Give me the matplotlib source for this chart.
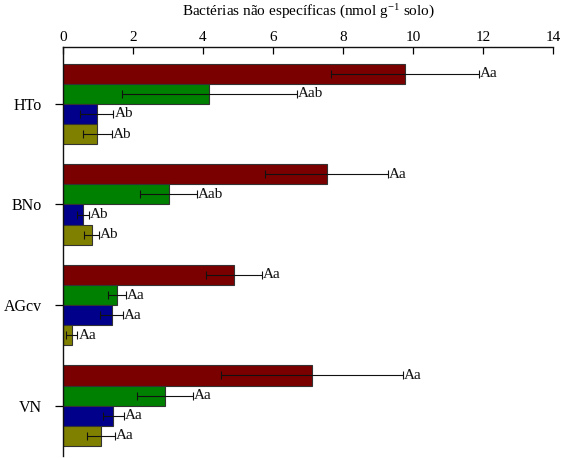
import matplotlib
matplotlib.use("Agg")
import matplotlib.pyplot as plt
import numpy as np

plt.rcParams["font.family"] = ["Liberation Serif", "DejaVu Serif"]
plt.rcParams["mathtext.fontset"] = "stix"

# Soil sites (top to bottom) and the four treatments per site
sites = ["HTo", "BNo", "AGcv", "VN"]
series_colors = ["#7a0000", "#008000", "#00008b", "#808000"]

means = [
    [9.77, 7.53, 4.89, 7.12],   # series 1 (red)
    [4.18, 3.02, 1.54, 2.91],   # series 2 (green)
    [0.96, 0.58, 1.39, 1.44],   # series 3 (blue)
    [0.98, 0.82, 0.25, 1.09],   # series 4 (olive)
]
errors = [
    [2.12, 1.76, 0.80, 2.60],
    [2.50, 0.81, 0.26, 0.80],
    [0.48, 0.17, 0.33, 0.30],
    [0.42, 0.21, 0.16, 0.40],
]
letters = [
    ["Aa", "Aa", "Aa", "Aa"],
    ["Aab", "Aab", "Aa", "Aa"],
    ["Ab", "Ab", "Aa", "Aa"],
    ["Ab", "Ab", "Aa", "Aa"],
]
xticks = [0, 2, 4, 6, 8, 10, 12, 14]

fig = plt.figure(figsize=(5.68, 4.58), dpi=100)
ax = fig.add_axes([0.1109, 0.0044, 0.8627, 0.893])

y = np.arange(len(sites))
h = 0.2
offsets = [-0.3, -0.1, 0.1, 0.3]

for k in range(4):
    ax.barh(y + offsets[k], means[k], height=h, color=series_colors[k],
            edgecolor="#333333", linewidth=0.8, zorder=2)
    ax.errorbar(means[k], y + offsets[k], xerr=errors[k], fmt="none",
                ecolor="#111111", elinewidth=0.8, capsize=3, capthick=0.8,
                zorder=3)
    for i in range(len(sites)):
        ax.text(means[k][i] + errors[k][i] + 0.03, y[i] + offsets[k], letters[k][i],
                ha="left", va="center", fontsize=11, color="#111111")

ax.set_xlim(0, 14)
ax.set_ylim(3.5, -0.565)
ax.set_xticks(xticks)
ax.set_yticks(y)
ax.set_yticklabels(sites, fontsize=11.5)

ax.xaxis.tick_top()
ax.tick_params(axis="x", direction="in", length=5, width=0.9, labelsize=11, pad=2)
ax.tick_params(axis="y", direction="out", length=6, width=0.9, pad=9)

for side in ["right", "bottom"]:
    ax.spines[side].set_visible(False)
for side in ["top", "left"]:
    ax.spines[side].set_linewidth(1.0)
    ax.spines[side].set_color("#111111")

fig.text(0.5423, 0.976, r"Bactérias não específicas (nmol g$^{\mathregular{-1}}$ solo)",
         ha="center", va="center", fontsize=11)

fig.savefig("out.png", dpi=100)
